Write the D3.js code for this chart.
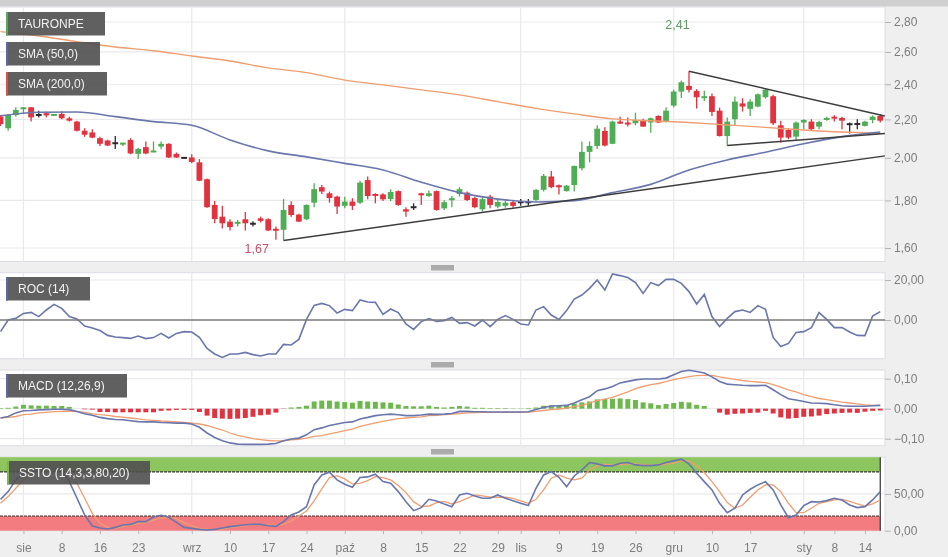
<!DOCTYPE html>
<meta charset="utf-8">
<style>
html, body { margin: 0; padding: 0; background: #efeff0; }
svg { display: block; font-family: "Liberation Sans", Arial, sans-serif; filter: blur(0.45px); }
.axis path { display: none; }
.axis line { stroke: #b5b5b5; }
.axis text { fill: #7d7d7d; font-size: 12px; font-family: "Liberation Sans", Arial, sans-serif; }
.grid { stroke: #e9e9ec; stroke-width: 1.2px; }
.legend text { fill: #f2f2f2; font-size: 12px; }
.line { fill: none; }
</style>
<svg width="948" height="557"></svg>
<script src="https://d3js.org/d3.v7.min.js"></script>
<script>

var tickIndex = [3, 8, 13, 18, 25, 30, 35, 40, 45, 50, 55, 60, 65, 68, 73, 78, 83, 88, 93, 98, 105, 109, 113];
var tickLabels = ["sie", "8", "16", "23", "wrz", "10", "17", "24", "paź", "8", "15", "22", "29", "lis", "9", "19", "26", "gru", "10", "17", "sty", "8", "14"];
var monthIndex = [3, 25, 45, 68, 88, 105];

var opens = [2.215,2.152,2.224,2.261,2.267,2.224,2.234,2.222,2.230,2.206,
  2.188,2.139,2.130,2.100,2.088,2.074,2.072,2.091,2.020,2.054,
  2.032,2.057,2.071,2.020,2.000,2.002,1.978,1.897,1.780,1.729,
  1.708,1.701,1.718,1.699,1.722,1.718,1.678,1.674,1.780,1.738,
  1.718,1.790,1.860,1.832,1.817,1.776,1.795,1.790,1.893,1.829,
  1.827,1.806,1.842,1.761,1.770,1.832,1.820,1.842,1.765,1.805,
  1.829,1.835,1.811,1.761,1.817,1.773,1.776,1.792,1.792,1.792,
  1.802,1.848,1.910,1.869,1.842,1.870,1.949,2.030,2.060,2.138,
  2.071,2.188,2.183,2.179,2.197,2.183,2.219,2.188,2.276,2.357,
  2.390,2.361,2.326,2.330,2.248,2.111,2.201,2.289,2.258,2.271,
  2.324,2.330,2.168,2.143,2.108,2.183,2.188,2.161,2.197,2.215,
  2.208,2.174,2.175,2.165,2.197,2.219];
var highs = [2.224,2.230,2.267,2.267,2.267,2.248,2.243,2.230,2.243,2.215,
  2.193,2.152,2.147,2.108,2.092,2.111,2.077,2.100,2.050,2.083,
  2.083,2.083,2.074,2.027,2.003,2.018,1.994,1.900,1.798,1.777,
  1.718,1.715,1.749,1.710,1.729,1.722,1.688,1.806,1.796,1.742,
  1.783,1.878,1.870,1.840,1.821,1.817,1.810,1.890,1.910,1.832,
  1.832,1.851,1.845,1.770,1.787,1.835,1.845,1.845,1.802,1.820,
  1.860,1.840,1.817,1.814,1.825,1.802,1.798,1.798,1.806,1.806,
  1.851,1.922,1.936,1.872,1.870,1.963,2.083,2.083,2.168,2.157,
  2.193,2.215,2.211,2.237,2.204,2.211,2.222,2.267,2.367,2.422,
  2.479,2.371,2.361,2.345,2.265,2.211,2.328,2.318,2.312,2.345,
  2.377,2.338,2.193,2.152,2.188,2.201,2.201,2.193,2.215,2.222,
  2.215,2.183,2.201,2.193,2.222,2.228];
var lows = [2.164,2.139,2.215,2.234,2.188,2.211,2.211,2.219,2.201,2.188,
  2.135,2.108,2.100,2.060,2.060,2.045,2.060,2.018,1.994,2.018,
  2.028,2.043,2.000,2.000,1.997,1.973,1.888,1.768,1.701,1.679,
  1.671,1.688,1.671,1.688,1.704,1.669,1.633,1.630,1.729,1.706,
  1.714,1.770,1.829,1.790,1.741,1.765,1.758,1.784,1.805,1.787,
  1.798,1.796,1.777,1.729,1.758,1.780,1.817,1.755,1.758,1.770,
  1.817,1.798,1.765,1.751,1.765,1.765,1.768,1.768,1.776,1.776,
  1.795,1.840,1.855,1.827,1.840,1.840,1.938,1.978,2.045,2.057,
  2.069,2.175,2.161,2.168,2.160,2.128,2.181,2.183,2.267,2.320,
  2.351,2.260,2.302,2.219,2.109,2.062,2.165,2.243,2.219,2.267,
  2.316,2.170,2.077,2.094,2.091,2.147,2.139,2.147,2.193,2.188,
  2.147,2.125,2.147,2.161,2.179,2.183];
var closes = [2.175,2.224,2.252,2.267,2.211,2.224,2.222,2.230,2.206,2.193,
  2.139,2.118,2.103,2.071,2.062,2.074,2.077,2.022,2.045,2.022,
  2.037,2.071,2.002,2.002,2.000,1.980,1.890,1.770,1.719,1.701,
  1.685,1.707,1.701,1.699,1.711,1.671,1.670,1.758,1.736,1.708,
  1.780,1.851,1.840,1.811,1.773,1.795,1.776,1.881,1.820,1.825,
  1.805,1.838,1.780,1.751,1.770,1.823,1.832,1.758,1.792,1.810,
  1.851,1.802,1.770,1.806,1.780,1.793,1.790,1.776,1.792,1.792,
  1.848,1.913,1.860,1.864,1.867,1.960,2.030,2.060,2.150,2.062,
  2.188,2.183,2.175,2.197,2.161,2.206,2.183,2.248,2.357,2.412,
  2.367,2.324,2.330,2.241,2.111,2.188,2.299,2.271,2.299,2.341,
  2.367,2.179,2.103,2.103,2.183,2.197,2.147,2.186,2.208,2.211,
  2.193,2.174,2.175,2.188,2.215,2.193];

// sampled every 5 sessions
var smaIndex = [0,5,10,15,20,25,30,35,40,45,50,55,60,65,70,75,80,85,90,95,100,105,110,115];
var sma50 = [2.219,2.239,2.241,2.215,2.188,2.168,2.091,2.035,2.005,1.973,1.941,1.883,1.835,1.806,1.793,1.799,1.835,1.873,1.941,1.990,2.028,2.071,2.108,2.132];
var sma200 = [2.734,2.705,2.667,2.632,2.608,2.574,2.542,2.499,2.470,2.425,2.396,2.367,2.338,2.299,2.261,2.230,2.203,2.193,2.183,2.170,2.157,2.143,2.132,2.125];

// trend lines: index of start and end, price at start and end
var trendFrom = [37, 90, 95];
var trendTo = [115.6, 115.6, 115.6];
var trendStart = [1.630, 2.479, 2.062];
var trendEnd = [2.010, 2.219, 2.125];

var roc = [-5.8,0,0.8,3.3,3.8,1.7,5,7.8,5.8,1.7,
  0.5,-3,-4,-5.3,-7.7,-8.5,-8.8,-9.2,-8,-9.3,
  -8.8,-6.7,-9,-6.7,-5.8,-6,-8.7,-14.2,-17,-18.7,
  -17,-17,-16.2,-17.3,-18,-17,-17,-12.2,-12.5,-9.7,
  0.3,7.3,8.3,7.2,3.5,5.3,4.7,10,9,8.8,
  2.8,5.5,3.7,-2,-4.7,-0.8,0.7,-0.7,-0.3,1.3,
  -1.7,-1.3,-3,0,-3.3,0.3,2.2,0.3,-2,-2.5,
  5,6.7,2.5,0.3,4.7,10.5,12.5,15.8,20,15,
  23,22.2,21.2,18.7,13.3,18.7,17.2,20.3,20.3,18.3,
  14.2,8,12.8,1.7,-3.3,0.8,4.2,5,3.8,7.2,
  5.3,-8.7,-13.3,-11.7,-6.2,-5.8,-3.8,3.7,0.3,-3.8,
  -3.8,-6,-7.7,-7.8,2,4.2];

var macd = [-.031,-.026,-.014,-.007,-.006,-.004,-.003,-.002,-.002,-.003,
  -.009,-.017,-.022,-.029,-.033,-.036,-.037,-.040,-.043,-.044,
  -.044,-.046,-.047,-.048,-.048,-.051,-.062,-.081,-.096,-.107,
  -.114,-.118,-.119,-.119,-.119,-.118,-.116,-.107,-.101,-.098,
  -.087,-.070,-.064,-.056,-.051,-.046,-.044,-.034,-.029,-.023,
  -.020,-.018,-.020,-.023,-.023,-.021,-.018,-.019,-.018,-.016,
  -.009,-.009,-.010,-.010,-.011,-.011,-.011,-.011,-.011,-.010,
  -.003,.004,.009,.010,.011,.019,.030,.040,.060,.066,
  .074,.086,.091,.096,.099,.099,.099,.102,.113,.124,
  .128,.124,.119,.106,.091,.082,.080,.078,.077,.077,
  .078,.063,.047,.033,.029,.024,.019,.018,.017,.013,
  .010,.008,.008,.008,.010,.011];
var macdSignal = [-.031,-.029,-.026,-.020,-.018,-.014,-.012,-.010,-.009,-.008,
  -.009,-.012,-.017,-.020,-.022,-.026,-.028,-.031,-.034,-.037,
  -.039,-.041,-.042,-.044,-.046,-.048,-.051,-.056,-.064,-.071,
  -.081,-.089,-.094,-.100,-.103,-.106,-.107,-.107,-.104,-.102,
  -.098,-.092,-.090,-.084,-.079,-.073,-.068,-.059,-.053,-.047,
  -.042,-.037,-.033,-.031,-.029,-.027,-.023,-.022,-.020,-.018,
  -.016,-.014,-.013,-.012,-.012,-.012,-.012,-.012,-.012,-.011,
  -.009,-.006,-.003,-.001,.002,.007,.011,.019,.027,.032,
  .038,.047,.056,.067,.074,.080,.084,.090,.097,.102,
  .107,.110,.111,.111,.106,.102,.098,.094,.091,.089,
  .087,.080,.072,.063,.056,.047,.040,.034,.030,.026,
  .022,.019,.016,.013,.011,.011];
var macdHist = [.002,.003,.007,.013,.011,.010,.010,.009,.009,.006,
  0,-.002,-.003,-.011,-.011,-.012,-.012,-.012,-.012,-.012,
  -.012,-.007,-.006,-.004,-.004,-.004,-.011,-.023,-.031,-.033,
  -.034,-.033,-.031,-.027,-.022,-.020,-.013,-.001,.004,.006,
  .010,.024,.027,.027,.024,.022,.020,.026,.024,.023,
  .021,.020,.014,.009,.008,.008,.010,.006,.004,.006,
  .009,.007,.003,.003,.002,.002,.002,.001,.001,.002,
  .004,.010,.011,.011,.012,.017,.021,.024,.031,.033,
  .033,.034,.032,.029,.021,.018,.012,.016,.019,.023,
  .021,.013,.009,0,-.013,-.020,-.017,-.016,-.014,-.013,
  -.007,-.016,-.029,-.033,-.031,-.027,-.026,-.023,-.018,-.016,
  -.014,-.013,-.014,-.010,-.007,-.006];

var stoK = [42.7,53.2,69.1,78.2,80.5,83.6,85,85,82.7,66.8,
  44.1,21.4,6.4,3.6,2.3,4.5,7.7,8.6,12.3,12.3,
  18.6,20.9,18.2,11.4,4.5,3.2,1.8,0.9,1.8,3.6,
  5.5,6.8,8.2,8.6,8.6,6.8,5.9,12.3,21.4,25.5,
  32.7,62.3,75.9,79.5,69.1,63.2,59.1,72.3,73.2,76.8,
  66.8,64.5,53.2,39.5,27.3,31.4,42.7,40.5,36.4,32.7,
  48.6,50.9,47.3,44.1,44.1,48.6,44.1,40.9,37.3,34.1,
  57.7,75.9,80.5,72.7,60,74.5,82.7,92.7,90.9,88.2,
  88.2,91.8,92.7,89.5,88.6,88.6,89.5,92.7,95,97.3,
  90.9,78.2,66.8,55.5,37.3,24.5,30.5,48.6,56.4,62.3,
  66.8,55.5,35,17.7,21.4,34.1,39.5,39.1,40.9,44.1,
  41.8,35,31.4,32.7,41.8,53.2];
var stoD = [37.3,46.4,57.7,69.1,75.9,80.5,83.6,85,84.1,78.2,
  64.5,44.1,23.6,10,4.5,3.6,5.5,7.7,10,10.9,
  14.5,17.3,18.2,16.4,10.9,6.4,3.2,1.8,1.8,2.3,
  4.1,5.5,6.8,7.7,8.2,7.7,7.3,8.6,13.2,20,
  26.8,40.5,56.8,72.3,75,70.5,63.6,64.5,68.2,73.6,
  72.3,69.1,61.4,51.8,39.5,32.7,33.6,38.2,40,36.4,
  39.5,44.1,48.6,47.3,45.5,45.5,45.5,44.1,40.5,37.3,
  42.7,55.5,71.4,75.9,71.4,69.1,71.4,82.7,88.2,90.5,
  89.1,89.5,90.9,90.9,90,89.1,89.1,90.5,91.8,95,
  95,88.6,79.1,66.8,53.2,38.2,30.5,35,45.5,55.5,
  62.3,62.3,53.2,37.3,24.5,24.5,30.5,37.3,39.5,41.8,
  42.7,40,36.4,33.6,36.4,41.8];

var priceTicks = [2.8, 2.6, 2.4, 2.2, 2.0, 1.8, 1.6];
var rocTicks = [20, 0];
var macdTicks = [0.1, 0, -0.1];
var stoTicks = [50, 0];

var legendNames = ["TAURONPE", "SMA (50,0)", "SMA (200,0)", "ROC (14)", "MACD (12,26,9)", "SSTO (14,3,3,80,20)"];

var green = "#4fae55", red = "#e0333f", doji = "#2b2b2b", blue = "#6a76ac", orange = "#ee9e70";

var svg = d3.select("svg");
var comma = function(d) { return d3.format(".2f")(d).replace(".", ","); };

var panelRight = 885;
var x = d3.scaleLinear().domain([0, 115]).range([0.5, 880.25]);
var yPrice = d3.scaleLog().domain([1.6, 2.8]).range([248, 22]);
var yRoc = d3.scaleLinear().domain([0, 20]).range([320, 280]);
var yMacd = d3.scaleLinear().domain([-0.1, 0.1]).range([438.7, 378.7]);
var ySto = d3.scaleLinear().domain([0, 100]).range([530.7, 457.2]);

// page furniture
svg.append("rect").attr("width", 948).attr("height", 6.5).attr("fill", "#cfcfcf");

function panel(top, bottom, ticks, y, fmt) {
  svg.append("rect").attr("x", -2).attr("y", top).attr("width", panelRight + 2).attr("height", bottom - top)
    .attr("fill", "#fff").attr("stroke", "#dcdce4");
  svg.selectAll(null).data(monthIndex).enter().append("line").attr("class", "grid")
    .attr("x1", x).attr("x2", x).attr("y1", top).attr("y2", bottom);
  svg.selectAll(null).data(ticks).enter().append("line").attr("class", "grid")
    .attr("x1", 0).attr("x2", panelRight).attr("y1", y).attr("y2", y);
  svg.append("g").attr("class", "axis").attr("transform", "translate(" + panelRight + ",0)")
    .call(d3.axisRight(y).tickValues(ticks).tickFormat(fmt).tickSize(6).tickPadding(3));
}
panel(7, 261.5, priceTicks, yPrice, comma);
panel(272.7, 358.7, rocTicks, yRoc, comma);
panel(370, 445.7, macdTicks, yMacd, comma);
panel(457, 530.7, stoTicks, ySto, comma);

// drag handles between the panes
svg.selectAll(null).data([265, 362, 449]).enter().append("rect")
  .attr("x", 431).attr("width", 23).attr("y", function(d) { return d; }).attr("height", 5.5).attr("fill", "#ababab");

// candles
var candles = svg.append("g").selectAll("g").data(d3.range(opens.length)).enter().append("g")
  .attr("fill", function(i) { return closes[i] > opens[i] ? green : closes[i] < opens[i] ? red : doji; })
  .attr("stroke", function(i) { return closes[i] > opens[i] ? green : closes[i] < opens[i] ? red : doji; });
candles.append("line").attr("stroke-width", 1.3)
  .attr("x1", x).attr("x2", x)
  .attr("y1", function(i) { return yPrice(highs[i]); })
  .attr("y2", function(i) { return yPrice(lows[i]); });
candles.append("rect").attr("stroke", "none").attr("width", 5.8)
  .attr("x", function(i) { return x(i) - 2.9; })
  .attr("y", function(i) { return yPrice(Math.max(opens[i], closes[i])) - (opens[i] === closes[i] ? 1 : 0); })
  .attr("height", function(i) { return Math.max(2, Math.abs(yPrice(opens[i]) - yPrice(closes[i]))); });

var smaLine = d3.line().curve(d3.curveMonotoneX)
  .x(function(d, i) { return x(smaIndex[i]); })
  .y(function(d) { return yPrice(d); });
svg.append("path").attr("class", "line").attr("stroke", orange).attr("stroke-width", 1.4).attr("d", smaLine(sma200));
svg.append("path").attr("class", "line").attr("stroke", blue).attr("stroke-width", 1.6).attr("d", smaLine(sma50));

svg.selectAll(null).data(trendFrom).enter().append("line")
  .attr("stroke", "#3d3d3d").attr("stroke-width", 1.5)
  .attr("x1", function(d) { return x(d); })
  .attr("y1", function(d, i) { return yPrice(trendStart[i]); })
  .attr("x2", function(d, i) { return x(trendTo[i]); })
  .attr("y2", function(d, i) { return yPrice(trendEnd[i]); });

svg.append("text").attr("x", x(36) - 7).attr("y", yPrice(1.6) + 4.5).attr("text-anchor", "end")
  .attr("font-size", 12.5).attr("fill", "#c4506a").text("1,67");
svg.append("text").attr("x", x(88.5)).attr("y", 29).attr("text-anchor", "middle")
  .attr("font-size", 12.5).attr("fill", "#5f9a68").text("2,41");

// ROC
var lineOf = function(y) {
  return d3.line().x(function(d, i) { return x(i); }).y(function(d) { return y(d); });
};
svg.append("path").attr("class", "line").attr("stroke", blue).attr("stroke-width", 1.6).attr("d", lineOf(yRoc)(roc));
svg.append("line").attr("x1", 0).attr("x2", panelRight).attr("y1", yRoc(0)).attr("y2", yRoc(0))
  .attr("stroke", "#7c7c7c").attr("stroke-width", 1.6);

// MACD
svg.selectAll(null).data(macdHist).enter().append("rect")
  .attr("x", function(d, i) { return x(i) - 2.5; }).attr("width", 5)
  .attr("y", function(d) { return yMacd(Math.max(d, 0)); })
  .attr("height", function(d) { return Math.abs(yMacd(d) - yMacd(0)); })
  .attr("fill", function(d) { return d > 0 ? "#6db84c" : "#e0333f"; });
svg.append("path").attr("class", "line").attr("stroke", orange).attr("stroke-width", 1.3).attr("d", lineOf(yMacd)(macdSignal));
svg.append("path").attr("class", "line").attr("stroke", blue).attr("stroke-width", 1.6).attr("d", lineOf(yMacd)(macd));

// stochastic
svg.append("rect").attr("x", 0).attr("width", x(115)).attr("y", ySto(100)).attr("height", ySto(80) - ySto(100)).attr("fill", "#8dc55f");
svg.append("rect").attr("x", 0).attr("width", x(115)).attr("y", ySto(20)).attr("height", ySto(0) - ySto(20)).attr("fill", "#f27c7f");
svg.append("line").attr("x1", 0).attr("x2", x(115)).attr("y1", ySto(80)).attr("y2", ySto(80))
  .attr("stroke", "#2f3a2a").attr("stroke-width", 1.2).attr("stroke-dasharray", "3,1");
svg.append("line").attr("x1", 0).attr("x2", x(115)).attr("y1", ySto(20)).attr("y2", ySto(20))
  .attr("stroke", "#402a2a").attr("stroke-width", 1.2).attr("stroke-dasharray", "3,1");
svg.append("line").attr("x1", x(115)).attr("x2", x(115)).attr("y1", ySto(100)).attr("y2", ySto(0))
  .attr("stroke", "#333").attr("stroke-width", 1.2);
svg.append("path").attr("class", "line").attr("stroke", orange).attr("stroke-width", 1.3).attr("d", lineOf(ySto)(stoD));
svg.append("path").attr("class", "line").attr("stroke", blue).attr("stroke-width", 1.6).attr("d", lineOf(ySto)(stoK));

// date axis
svg.append("g").attr("class", "axis").attr("transform", "translate(0,531)")
  .call(d3.axisBottom(x).tickValues(tickIndex).tickFormat(function(d, i) { return tickLabels[i]; }).tickSize(3).tickPadding(9));

// legend boxes
var boxX = [6, 6, 6, 6, 6, 7];
var boxY = [12, 42, 72, 277, 374, 461];
var boxW = [99, 94, 101, 84, 121, 143];
var boxAccent = ["#4fae55", "#5a67ad", "#e0503f", "#5a67ad", "#5a67ad", "#7ab84c"];
var legend = svg.append("g").attr("class", "legend").selectAll("g").data(legendNames).enter().append("g")
  .attr("transform", function(d, i) { return "translate(" + boxX[i] + "," + boxY[i] + ")"; });
legend.append("rect").attr("width", function(d, i) { return boxW[i]; }).attr("height", 23.5)
  .attr("fill", "#4f4f4f").attr("fill-opacity", 0.9);
legend.append("rect").attr("width", 2).attr("height", 23.5).attr("fill", function(d, i) { return boxAccent[i]; });
legend.append("text").attr("x", 12).attr("y", 16).text(function(d) { return d; });

</script>
